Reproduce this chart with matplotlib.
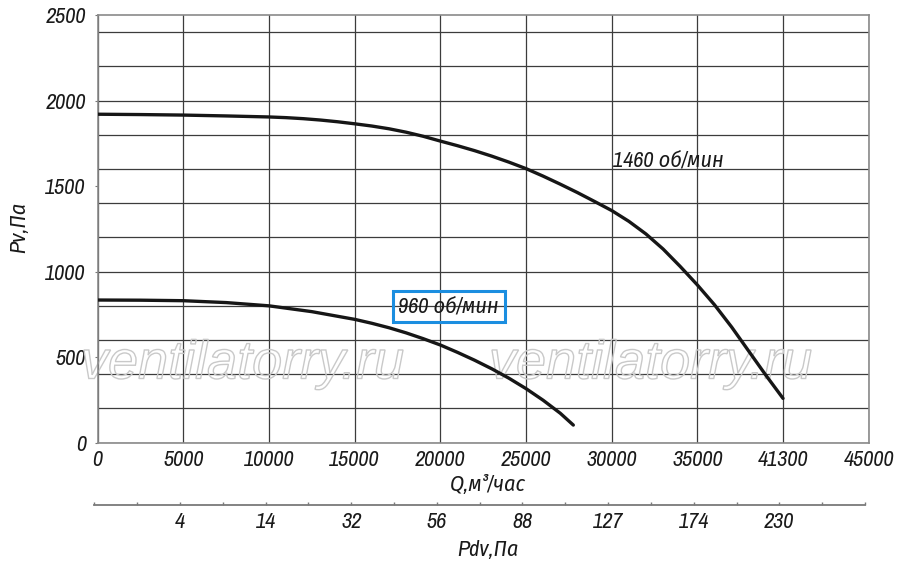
import matplotlib
matplotlib.use("Agg")
import matplotlib.pyplot as plt
from matplotlib.ticker import MultipleLocator
from matplotlib.textpath import TextPath
from matplotlib.patches import PathPatch
from matplotlib.font_manager import FontProperties
import matplotlib.transforms as mtransforms

# ---------------- data ----------------
q_1460 = [0, 2500, 5000, 7500, 10000, 11000, 12000, 13000, 14000, 15000,
          16000, 17000, 18000, 19000, 20000, 21000, 22000, 23000, 24000,
          25000, 26000, 27000, 28000, 29000, 30000, 31000, 32000, 33000,
          34000, 35000, 36000, 37000, 38000, 39000, 40000]
p_1460 = [1920, 1918, 1915, 1910, 1904, 1900, 1894, 1886, 1876, 1864,
          1851, 1835, 1815, 1791, 1763, 1736, 1707, 1675, 1640,
          1602, 1558, 1511, 1462, 1410, 1357, 1294, 1220, 1132,
          1030, 922, 806, 676, 535, 394, 259]

q_960 = [0, 2500, 5000, 7500, 10000, 12500, 15000, 16000, 17000, 18000,
         19000, 20000, 21000, 22000, 23000, 24000, 25000, 26000, 27000, 27760]
p_960 = [834, 833, 830, 819, 800, 766, 721, 698, 672, 642,
         608, 571, 528, 482, 432, 377, 316, 248, 172, 103]

q_ticks = [0, 5000, 10000, 15000, 20000, 25000, 30000, 35000, 40000, 45000]
q_tick_labels = ["0", "5000", "10000", "15000", "20000", "25000", "30000",
                 "35000", "41300", "45000"]
p_ticks = [0, 500, 1000, 1500, 2000, 2500]
p_tick_labels = ["0", "500", "1000", "1500", "2000", "2500"]

pdv_positions = [5000, 10000, 15000, 20000, 25000, 30000, 35000, 40000]
pdv_labels = ["4", "14", "32", "56", "88", "127", "174", "230"]

label_1460 = "1460 об/мин"
label_960 = "960 об/мин"
watermark = "ventilatorry.ru"

# ---------------- style ----------------
FAM = ["Archivo Narrow", "Fira Sans Condensed", "DejaVu Sans"]
plt.rcParams["font.family"] = FAM
plt.rcParams["font.style"] = "italic"
TXT = "#1a1a1a"
FS = 16

W, H = 900, 566
fig = plt.figure(figsize=(W / 100, H / 100), dpi=100)
fig.patch.set_facecolor("white")

ax_l, ax_r, ax_t, ax_b = 97.7, 868.7, 15.0, 442.7
ax = fig.add_axes([ax_l / W, 1 - ax_b / H, (ax_r - ax_l) / W, (ax_b - ax_t) / H])
ax.set_xlim(0, 45000)
ax.set_ylim(0, 2500)

# grid
ax.set_xticks(q_ticks)
ax.set_xticklabels(q_tick_labels)
ax.set_yticks(p_ticks)
ax.set_yticklabels(p_tick_labels)
ax.yaxis.set_minor_locator(MultipleLocator(200))
ax.yaxis.remove_overlapping_locs = False
ax.grid(which="major", axis="x", color="#3c3c3c", lw=0.9, zorder=1)
ax.grid(which="minor", axis="y", color="#3c3c3c", lw=0.9, zorder=1)
ax.set_axisbelow(True)
for s in ax.spines.values():
    s.set_color("#8a8a8a")
    s.set_linewidth(1.2)
ax.tick_params(axis="x", which="both", length=0, pad=5, labelsize=FS, labelcolor=TXT)
ax.tick_params(axis="y", which="major", length=2.5, width=0.8, color="#777777",
               pad=6, labelsize=FS, labelcolor=TXT)
ax.tick_params(axis="y", which="minor", length=0)

# watermark (hollow outlined text)
wm_prop = FontProperties(family="Liberation Sans", style="italic")
for x0 in (81.0, 489.0):
    tp = TextPath((0, 0), watermark, size=54, prop=wm_prop)
    tr = mtransforms.Affine2D().translate(x0, H - 378.5)
    patch = PathPatch(tp, transform=tr, facecolor="none", edgecolor="#c9c9c9",
                      lw=1.0, zorder=1.5, clip_on=False)
    ax.add_artist(patch)

# curves
ax.plot(q_1460, p_1460, color="#161616", lw=2.4, solid_capstyle="round",
        solid_joinstyle="round", zorder=3)
ax.plot(q_960, p_960, color="#161616", lw=2.4, solid_capstyle="round",
        solid_joinstyle="round", zorder=3)

ax.text(30050, 1617, label_1460, fontsize=FS, color=TXT, ha="left", va="baseline", zorder=4)
ax.text(17550, 762, label_960, fontsize=FS, color=TXT, ha="left", va="baseline", zorder=4,
        bbox=dict(boxstyle="square,pad=0.26", fc="none", ec="#1b8ee0", lw=2.2))

# axis labels
fig.text(19.5 / W, 1 - 227 / H, "Pv,Па", rotation=90, fontsize=FS, color=TXT,
         ha="center", va="center")
fig.text(488 / W, 1 - 485 / H, "Q,м³/час", fontsize=FS, color=TXT,
         ha="center", va="center")
fig.text(487.5 / W, 1 - 550 / H, "Pdv,Па", fontsize=FS, color=TXT,
         ha="center", va="center")

# secondary (dynamic pressure) scale
a2_l, a2_r, a2_y = 94.3, 865.0, 505.0
ax2 = fig.add_axes([a2_l / W, 1 - a2_y / H, (a2_r - a2_l) / W, 0.0001])
ax2.set_xlim(0, 45000)
ax2.set_ylim(0, 1)
ax2.patch.set_visible(False)
for k in ("top", "left", "right"):
    ax2.spines[k].set_visible(False)
ax2.spines["bottom"].set_color("#7a7a7a")
ax2.spines["bottom"].set_linewidth(1.3)
ax2.set_yticks([])
ax2.xaxis.set_minor_locator(MultipleLocator(2500))
ax2.set_xticks(pdv_positions)
ax2.set_xticklabels(pdv_labels)
ax2.tick_params(axis="x", which="both", direction="in", length=2.5, width=1.0,
                color="#7a7a7a", pad=5, labelsize=FS, labelcolor=TXT)

fig.savefig("out.png", dpi=100)
